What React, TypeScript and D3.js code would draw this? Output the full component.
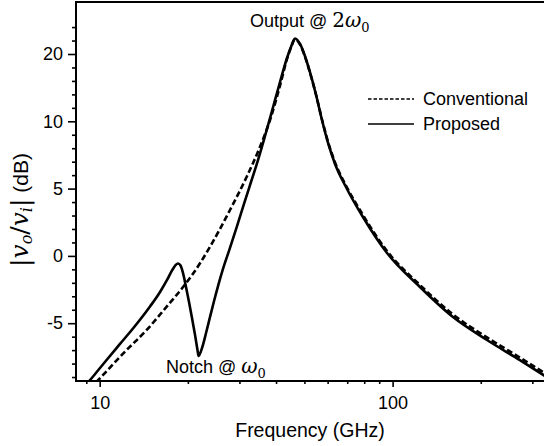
import React, { Component } from 'react';
import * as d3 from 'd3';

// Proposed (solid) response
const freqProposed = [8.84, 9.49, 10.42, 11.73, 13.2, 14.85, 16.07, 16.98, 17.66, 18.15, 18.51, 18.88, 19.25, 19.71, 20.18, 20.66, 21.16, 21.57, 21.75, 22.35, 23.07, 23.8, 24.57, 25.35, 26.36, 27.85, 29.43, 31.09, 32.85, 34.71, 36.68, 38.75, 41.27, 43.6, 44.99, 46.43, 48.3, 50.2, 52.2, 54.8, 57.4, 60.2, 63.6, 69.3, 79.2, 95.7, 124, 160.8, 210, 272, 334];
const magProposed = [-9.74, -8.96, -7.88, -6.54, -5.21, -3.76, -2.68, -1.79, -1.08, -0.68, -0.56, -0.71, -1.27, -2.31, -3.42, -4.61, -5.88, -6.99, -7.44, -6.85, -5.73, -4.54, -3.35, -2.24, -0.97, 0.59, 2.22, 3.86, 5.49, 7.12, 8.91, 11.53, 15.84, 19.41, 21.04, 22.3, 21.49, 19.7, 17.33, 13.91, 10.19, 8.39, 6.83, 5.12, 2.89, 0.22, -2.31, -4.54, -6.25, -7.74, -8.97];

// Conventional (dashed) response
const freqConventional = [9.26, 9.89, 12.04, 14.47, 16.93, 19.29, 22.0, 23.8, 27.85, 31.76, 35.27, 38.15, 41.27, 43.6, 44.99, 46.43, 48.3, 50.2, 52.2, 54.8, 57.4, 60.2, 63.6, 69.3, 79.2, 95.7, 124, 160.8, 210, 272, 334];
const magConventional = [-9.86, -9.22, -7.24, -5.5, -3.77, -2.29, -0.55, 0.68, 3.41, 5.88, 8.11, 10.19, 15.3, 19.26, 20.97, 22.15, 21.41, 19.63, 17.26, 13.91, 10.27, 8.47, 6.94, 5.23, 3.04, 0.36, -2.16, -4.35, -6.06, -7.55, -8.77];

const yTicks = [20, 10, 5, 0, -5];
const yTickLabels = ['20', '10', '5', '0', '-5'];
const yMinorTicks = [24, 22, 18, 16, 14, 12, 9, 8, 7, 6, 4, 3, 2, 1, -1, -2, -3, -4, -6, -7, -8, -9];
const xTicks = [10, 100];
const xMinorTicks = [9, 20, 30, 40, 50, 60, 70, 80, 90, 200, 300];

const seriesNames = ['Conventional', 'Proposed'];

const sans = '"Liberation Sans", Arial, sans-serif';
const serif = '"DejaVu Serif", "Liberation Serif", serif';

class App extends Component {
  node: SVGSVGElement | null = null;

  componentDidMount() {
    this.createGraph();
  }

  createGraph = () => {
    const svg = d3.select(this.node);
    svg.selectAll('*').remove();

    const left = 76, right = 546, top = 2, bottom = 381;

    const x = d3.scaleLog().domain([8.3, 334]).range([left, right]);
    // the axis is labelled 20, 10, 5, 0, -5 at equal steps
    const y = d3.scaleLinear()
      .domain([-5, 0, 5, 10, 20])
      .range([323.2, 255.9, 188.6, 121.3, 54]);

    svg.append('defs').append('clipPath')
      .attr('id', 'plotClip')
      .append('rect')
      .attr('x', left)
      .attr('y', top)
      .attr('width', right - left)
      .attr('height', bottom - top);

    const plot = svg.append('g').attr('clip-path', 'url(#plotClip)');

    plot.append('path')
      .attr('d', d3.line<number>()
        .x(d => x(d))
        .y((d, i) => y(magConventional[i]))
        .curve(d3.curveMonotoneX)(freqConventional))
      .attr('fill', 'none')
      .attr('stroke', '#000')
      .attr('stroke-width', 2.6)
      .attr('stroke-dasharray', '6,3');

    plot.append('path')
      .attr('d', d3.line<number>()
        .x(d => x(d))
        .y((d, i) => y(magProposed[i]))
        .curve(d3.curveMonotoneX)(freqProposed))
      .attr('fill', 'none')
      .attr('stroke', '#000')
      .attr('stroke-width', 2.6)
      .attr('stroke-linejoin', 'round');

    // y axis
    svg.append('g')
      .attr('transform', `translate(${left},0)`)
      .call(d3.axisLeft(y).tickValues(yTicks).tickFormat((d, i) => yTickLabels[i]).tickSize(8).tickPadding(5));
    svg.append('g')
      .attr('transform', `translate(${left},0)`)
      .call(d3.axisLeft(y).tickValues(yMinorTicks).tickFormat(() => '').tickSize(4));

    // x axis
    svg.append('g')
      .attr('transform', `translate(0,${bottom})`)
      .call(d3.axisBottom(x).tickValues(xTicks).tickFormat(d3.format('d')).tickSize(6).tickPadding(9));
    svg.append('g')
      .attr('transform', `translate(0,${bottom})`)
      .call(d3.axisBottom(x).tickValues(xMinorTicks).tickFormat(() => '').tickSize(3));

    svg.selectAll('.domain').remove();
    svg.selectAll('.tick line').attr('stroke', '#000').attr('stroke-width', 1.6);
    svg.selectAll('.tick text')
      .attr('fill', '#000')
      .style('font-family', sans)
      .style('font-size', '18px');

    // frame
    svg.append('line').attr('x1', left).attr('x2', left).attr('y1', top - 1).attr('y2', bottom + 1)
      .attr('stroke', '#000').attr('stroke-width', 2);
    svg.append('line').attr('x1', left - 1).attr('x2', right).attr('y1', bottom).attr('y2', bottom)
      .attr('stroke', '#000').attr('stroke-width', 2);
    svg.append('line').attr('x1', left - 1).attr('x2', right).attr('y1', top).attr('y2', top)
      .attr('stroke', '#000').attr('stroke-width', 2);

    // legend
    const legend = svg.append('g');
    seriesNames.forEach((name, i) => {
      const ly = 99 + i * 25;
      legend.append('line')
        .attr('x1', 368).attr('x2', 414).attr('y1', ly).attr('y2', ly)
        .attr('stroke', '#000')
        .attr('stroke-width', 1.3)
        .attr('stroke-dasharray', i === 0 ? '3.5,2' : null);
      legend.append('text')
        .attr('x', 423).attr('y', ly).attr('dy', '0.35em')
        .style('font-family', sans).style('font-size', '18px')
        .text(name);
    });

    // annotations
    const out = svg.append('text').attr('x', 250).attr('y', 27)
      .style('font-family', sans).style('font-size', '18px');
    out.append('tspan').text('Output @ ');
    out.append('tspan').style('font-family', serif).style('font-size', '20px').text('2');
    out.append('tspan').style('font-family', serif).style('font-style', 'italic').style('font-size', '20px').text('ω');
    out.append('tspan').style('font-family', serif).style('font-size', '13px').attr('dy', 5).text('0');

    const notch = svg.append('text').attr('x', 166).attr('y', 373)
      .style('font-family', sans).style('font-size', '18px');
    notch.append('tspan').text('Notch @ ');
    notch.append('tspan').style('font-family', serif).style('font-style', 'italic').style('font-size', '20px').text('ω');
    notch.append('tspan').style('font-family', serif).style('font-size', '13px').attr('dy', 5).text('0');

    svg.append('text')
      .attr('x', 310).attr('y', 437)
      .attr('text-anchor', 'middle')
      .style('font-family', sans).style('font-size', '19.5px')
      .text('Frequency (GHz)');

    const yl = svg.append('text')
      .attr('transform', 'translate(28,210) rotate(-90)')
      .attr('text-anchor', 'middle')
      .style('font-family', serif).style('font-size', '25px');
    yl.append('tspan').text('|');
    yl.append('tspan').style('font-style', 'italic').text('v');
    yl.append('tspan').style('font-style', 'italic').style('font-size', '16px').attr('dy', 4).text('o');
    yl.append('tspan').attr('dy', -4).text('/');
    yl.append('tspan').style('font-style', 'italic').text('v');
    yl.append('tspan').style('font-style', 'italic').style('font-size', '16px').attr('dy', 4).text('i');
    yl.append('tspan').attr('dy', -4).text('|');
    yl.append('tspan').style('font-family', sans).style('font-size', '21px').text(' (dB)');
  }

  render() {
    return (
      <svg
        ref={node => { this.node = node; }}
        width={544}
        height={446}
        style={{ position: 'absolute', left: 0, top: 0, background: '#fff' }}
      />
    );
  }
}

export default App;
